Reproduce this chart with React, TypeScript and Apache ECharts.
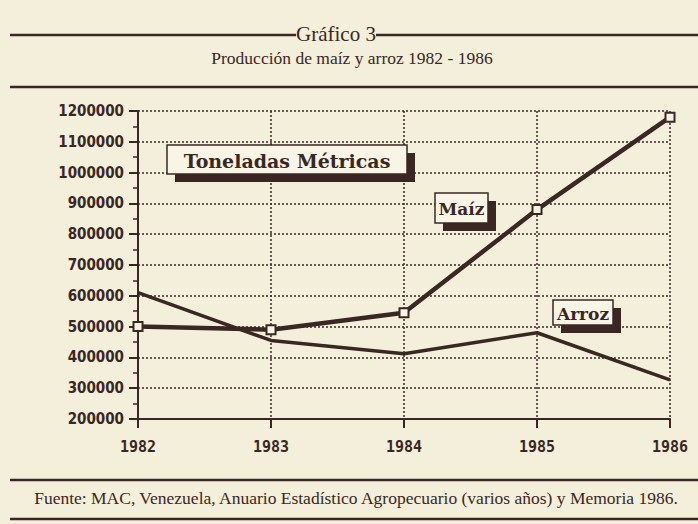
import React, { useEffect, useRef } from "react";
import * as echarts from "echarts";

const years = ["1982", "1983", "1984", "1985", "1986"];
const maiz = [500000, 490000, 545000, 880000, 1180000];
const arroz = [610000, 455000, 412000, 480000, 327000];
const yMin = 200000;
const yMax = 1200000;
const yStep = 100000;

const INK = "#3a2724";
const PAPER = "#f3efda";
const BOX = "#f8f5e6";

function labelBox(x: number, y: number, w: number, h: number, text: string, size: number) {
  return [
    { type: "rect", shape: { x: x + 8, y: y + 8, width: w, height: h }, style: { fill: INK }, z: 10 },
    { type: "rect", shape: { x, y, width: w, height: h }, style: { fill: BOX, stroke: INK, lineWidth: 1.5 }, z: 11 },
    {
      type: "text",
      x: x + w / 2,
      y: y + h / 2 + 1,
      style: {
        text,
        fill: INK,
        font: `bold ${size}px "DejaVu Serif", serif`,
        textAlign: "center",
        textVerticalAlign: "middle",
      },
      z: 12,
    },
  ];
}

export default function App() {
  const ref = useRef<HTMLDivElement>(null);
  useEffect(() => {
    if (!ref.current) return;
    const chart = echarts.init(ref.current, undefined, { renderer: "svg" });
    chart.setOption({
      animation: false,
      backgroundColor: PAPER,
      grid: { left: 138, right: 28, top: 111, bottom: 105, containLabel: false },
      xAxis: {
        type: "category",
        data: years,
        boundaryGap: false,
        axisLine: { show: true, lineStyle: { color: INK, width: 2 } },
        axisTick: { show: true, length: 9, lineStyle: { color: INK, width: 2 } },
        axisLabel: {
          margin: 20,
          color: INK,
          fontFamily: '"DejaVu Sans Mono", monospace',
          fontWeight: "bold",
          fontSize: 15,
        },
        splitLine: { show: true, lineStyle: { color: INK, type: [2, 2], width: 1.5 } },
      },
      yAxis: {
        type: "value",
        min: yMin,
        max: yMax,
        interval: yStep,
        axisLine: { show: true, lineStyle: { color: INK, width: 2 } },
        axisTick: { show: true, length: 9, lineStyle: { color: INK, width: 2 } },
        minorTick: { show: true, splitNumber: 2, length: 5, lineStyle: { color: INK, width: 1.5 } },
        axisLabel: {
          margin: 14,
          color: INK,
          fontFamily: '"DejaVu Sans Condensed", "DejaVu Sans", sans-serif',
          fontWeight: "bold",
          fontSize: 15,
          formatter: (v: number) => String(v),
        },
        splitLine: { show: true, lineStyle: { color: INK, type: [2, 2], width: 1.5 } },
      },
      series: [
        {
          name: "Maíz",
          type: "line",
          data: maiz,
          symbol: "rect",
          symbolSize: 9,
          itemStyle: { color: BOX, borderColor: INK, borderWidth: 2 },
          lineStyle: { color: INK, width: 4.5 },
          z: 5,
        },
        {
          name: "Arroz",
          type: "line",
          data: arroz,
          symbol: "none",
          lineStyle: { color: INK, width: 3.5 },
          z: 4,
        },
      ],
      graphic: [
        { type: "line", shape: { x1: 10, y1: 35, x2: 296, y2: 35 }, style: { stroke: INK, lineWidth: 2.5 } },
        { type: "line", shape: { x1: 376, y1: 35, x2: 698, y2: 35 }, style: { stroke: INK, lineWidth: 2.5 } },
        {
          type: "text",
          x: 336,
          y: 34,
          style: {
            text: "Gráfico 3",
            fill: INK,
            font: '21px "Liberation Serif", serif',
            textAlign: "center",
            textVerticalAlign: "middle",
          },
        },
        {
          type: "text",
          x: 352,
          y: 58,
          style: {
            text: "Producción de maíz y arroz 1982 - 1986",
            fill: INK,
            font: '17.5px "Liberation Serif", serif',
            textAlign: "center",
            textVerticalAlign: "middle",
          },
        },
        { type: "line", shape: { x1: 10, y1: 87, x2: 698, y2: 87 }, style: { stroke: INK, lineWidth: 2.5 } },
        { type: "line", shape: { x1: 130, y1: 419, x2: 138, y2: 419 }, style: { stroke: INK, lineWidth: 2 } },
        { type: "line", shape: { x1: 138, y1: 419, x2: 138, y2: 428 }, style: { stroke: INK, lineWidth: 2 } },
        { type: "line", shape: { x1: 10, y1: 480, x2: 698, y2: 480 }, style: { stroke: INK, lineWidth: 2.5 } },
        {
          type: "text",
          x: 356,
          y: 498,
          style: {
            text: "Fuente: MAC, Venezuela, Anuario Estadístico Agropecuario (varios años) y Memoria 1986.",
            fill: INK,
            font: '17.5px "Liberation Serif", serif',
            textAlign: "center",
            textVerticalAlign: "middle",
          },
        },
        { type: "line", shape: { x1: 10, y1: 519, x2: 698, y2: 519 }, style: { stroke: INK, lineWidth: 2.5 } },
        ...labelBox(167, 145, 240, 29, "Toneladas Métricas", 19),
        ...labelBox(435, 193, 53, 30, "Maíz", 17),
        ...labelBox(553, 300, 60, 25, "Arroz", 17),
      ],
    });
    return () => chart.dispose();
  }, []);
  return (
    <div
      ref={ref}
      style={{ position: "absolute", left: 0, top: 0, width: 698, height: 524 }}
    />
  );
}
